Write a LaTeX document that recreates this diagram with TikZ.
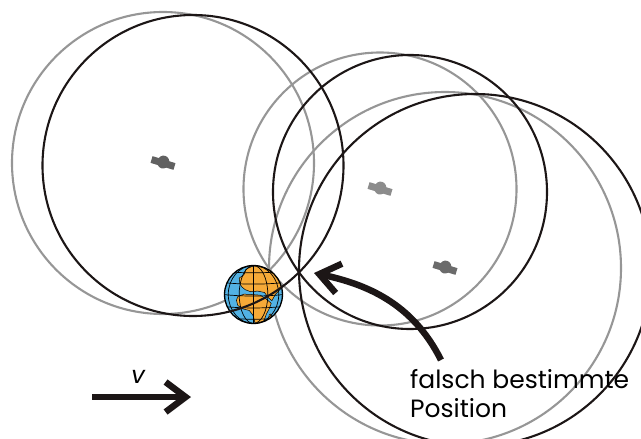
\documentclass[tikz,border=0pt]{standalone}
\usepackage{fontspec}
\setmainfont{Poppins}
\usetikzlibrary{arrows.meta}

\definecolor{ringgray}{RGB}{150,150,150}
\definecolor{ringblack}{RGB}{28,22,22}
\definecolor{seablue}{RGB}{82,178,228}
\definecolor{landorange}{RGB}{246,170,56}

\tikzset{
  truering/.style={draw=ringgray, line width=2.1pt},
  fixring/.style={draw=ringblack, line width=2.1pt},
  pointer/.style={draw=ringblack, line width=6.5pt,
    -{Straight Barb[length=20pt,width=30pt]}},
  gridline/.style={draw=black, line width=0.7pt},
  coast/.style={fill=landorange, draw=black, line width=0.5pt},
  sat/.pic={
    \fill (-12,-3.5) rectangle (12,3.5);
    \fill (0,-1) ellipse[x radius=6, y radius=6.5];
  },
}

\begin{document}
\begin{tikzpicture}[x=1pt,y=-1pt]
\useasboundingbox (0,0) rectangle (641,439);

% satellite positions and the shifted ranging centres
\coordinate (sat1) at (163,163);
\coordinate (sat2) at (380,189);
\coordinate (sat3) at (445,268);
\coordinate (fix1) at (193,165.5);
\coordinate (fix2) at (410,192);
\coordinate (fix3) at (475,270);
\coordinate (earth) at (253.5,294.5);

% true ranging spheres
\draw[truering] (sat1) circle[radius=151];
\draw[truering] (sat2) circle[radius=136.5];
\draw[truering] (sat3) circle[radius=176];

% the globe
\begin{scope}[shift={(earth)}, scale=0.341]
  \begin{scope}
    \clip (0,0) circle[radius=85];
    \fill[seablue] (0,0) circle[radius=85];
    % Eurasia
    \path[coast] (-40,-32) -- (-42,-48) -- (-28,-58) -- (-22,-74) -- (-5,-82)
      -- (15,-86) -- (35,-80) -- (55,-72) -- (70,-60) -- (82,-45) -- (88,-30)
      -- (78,-15) -- (64,0) -- (54,18) -- (44,10) -- (32,-6) -- (12,-10)
      -- (-8,-8) -- (-24,-14) -- (-34,-22) -- cycle;
    % Africa
    \path[coast] (-46,6) -- (-28,-1) -- (-6,0) -- (20,2) -- (36,12) -- (52,26)
      -- (46,42) -- (38,57) -- (31,76) -- (21,92) -- (11,96) -- (4,82)
      -- (-1,62) -- (-12,47) -- (-32,42) -- (-46,32) -- (-50,17) -- cycle;
    % Madagascar
    \path[coast] (49,66) ellipse[x radius=4, y radius=9];
    % graticule
    \draw[gridline] (0,-85) -- (0,85);
    \draw[gridline] (0,0) ellipse[x radius=42, y radius=85];
    \draw[gridline] (0,0) ellipse[x radius=74, y radius=85];
    \foreach \yy in {-68,-35,0,35,68}
      \draw[gridline] (-90,\yy) .. controls (-30,\yy+6) and (30,\yy+6) .. (90,\yy);
  \end{scope}
  \draw[black, line width=1.3pt] (0,0) circle[radius=85];
\end{scope}

% ranging spheres from the shifted measurement
\draw[fixring] (fix1) circle[radius=150.5];
\draw[fixring] (fix2) circle[radius=137];
\draw[fixring] (fix3) circle[radius=176];

% satellites
\pic[fill=black!62, rotate=-17] at (sat1) {sat};
\pic[fill=black!45, rotate=-17] at (sat2) {sat};
\pic[fill=black!58, rotate=-17] at (sat3) {sat};

% velocity
\coordinate (vtail) at (92,397);
\coordinate (vhead) at (191,397);
\draw[pointer] (vtail) -- (vhead);
\node[font=\itshape\fontsize{24}{24}\selectfont, inner sep=0] (vlabel) at (138,377) {v};

% label and pointer to the wrong fix
\node[anchor=north west, align=left, inner sep=0,
      font=\fontsize{25}{29}\selectfont] (falsepos) at (410,369) {falsch bestimmte\\Position};
\coordinate (ptail) at (441,360);
\coordinate (wrongfix) at (314,273);
\draw[pointer] (ptail) .. controls (412,302) and (365,284) .. (wrongfix);

\end{tikzpicture}
\end{document}
